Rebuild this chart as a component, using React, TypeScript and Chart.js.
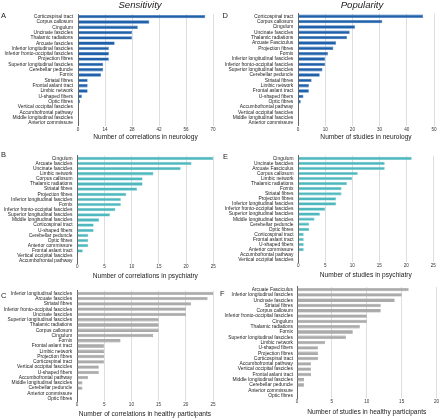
import React, { useEffect, useRef } from "react";
import { Chart, registerables } from "chart.js";

Chart.register(...registerables);

// ---------- DATA ----------
const labelsA = [
  "Corticospinal tract", "Corpus callosum", "Cingulum", "Uncinate fascicles", "Thalamic radiations",
  "Arcuate fascicles", "Inferior longitudinal fascicles", "Inferior fronto-occipital fascicles",
  "Projection fibres", "Superior longitudinal fascicles", "Cerebellar peduncle", "Fornix",
  "Striatal fibres", "Frontal aslant tract", "Limbic network", "U-shaped fibers", "Optic fibres",
  "Vertical occipital fascicles", "Accumbofrontal pathway", "Middle longitudinal fascicles",
  "Anterior commissure",
];
const valuesA = [66, 37, 31, 28, 28, 19, 16, 16, 16, 13, 13, 12, 5, 5, 5, 2, 1, 0, 0, 0, 0];

const labelsB = [
  "Cingulum", "Arcuate fascicles", "Uncinate fascicles", "Limbic network", "Corpus callosum",
  "Thalamic radiations", "Striatal fibres", "Projection fibres", "Inferior longitudinal fascicles",
  "Fornix", "Inferior fronto-occipital fascicles", "Superior longitudinal fascicles",
  "Middle longitudinal fascicles", "Corticospinal tract", "U-shaped fibers", "Cerebellar peduncle",
  "Optic fibres", "Anterior commissure", "Frontal aslant tract", "Vertical occipital fascicles",
  "Accumbofrontal pathway",
];
const valuesB = [25, 21, 19, 14, 12, 12, 11, 9, 8, 8, 7, 6, 4, 3, 3, 2, 2, 2, 1, 0, 0];

const labelsC = [
  "Inferior longitudinal fascicles", "Arcuate fascicles", "Striatal fibres",
  "Inferior fronto-occipital fascicles", "Uncinate fascicles", "Superior longitudinal fascicles",
  "Thalamic radiations", "Corpus callosum", "Cingulum", "Fornix", "Frontal aslant tract",
  "Limbic network", "Projection fibres", "Corticospinal tract", "Vertical occipital fascicles",
  "U-shaped fibers", "Accumbofrontal pathway", "Middle longitudinal fascicles",
  "Cerebellar peduncle", "Anterior commissure", "Optic fibres",
];
const valuesC = [25, 24, 21, 20, 20, 15, 15, 15, 14, 8, 5, 5, 5, 5, 4, 4, 2, 1, 1, 0, 0];

const labelsD = [
  "Corticospinal tract", "Corpus callosum", "Cingulum", "Uncinate fascicles", "Thalamic radiations",
  "Arcuate Fasciculus", "Projection fibres", "Fornix", "Inferior longitudinal fascicles",
  "Inferior fronto-occipital fascicles", "Superior longitudinal fascicles", "Cerebellar peduncle",
  "Striatal fibres", "Limbic network", "Frontal aslant tract", "U-shaped fibers", "Optic fibres",
  "Accumbofrontal pathway", "Vertical occipital fascicles", "Middle longitudinal fascicles",
  "Anterior commissure",
];
const valuesD = [46, 31, 21, 19, 18, 14, 13, 11, 10, 10, 9, 8, 5, 4, 4, 2, 1, 0, 0, 0, 0];

const labelsE = [
  "Cingulum", "Uncinate fascicles", "Arcuate Fasciculus", "Corpus callosum", "Limbic network",
  "Thalamic radiations", "Fornix", "Striatal fibres", "Projection fibres",
  "Inferior longitudinal fascicles", "Inferior fronto-occipital fascicles",
  "Superior longitudinal fascicles", "Middle longitudinal fascicles", "Cerebellar peduncle",
  "Optic fibres", "Corticospinal tract", "Frontal aslant tract", "U-shaped fibers",
  "Anterior commissure", "Accumbofrontal pathway", "Vertical occipital fascicles",
];
const valuesE = [21, 16, 16, 11, 10, 9, 8, 8, 7, 7, 5, 4, 3, 2, 2, 1, 1, 1, 1, 0, 0];

const labelsF = [
  "Arcuate Fasciculus", "Inferior longitudinal fascicles", "Uncinate fascicles", "Striatal fibres",
  "Corpus callosum", "Inferior fronto-occipital fascicles", "Cingulum", "Thalamic radiations",
  "Fornix", "Superior longitudinal fascicles", "Limbic network", "U-shaped fibers",
  "Projection fibres", "Corticospinal tract", "Accumbofrontal pathway",
  "Vertical occipital fascicles", "Frontal aslant tract", "Middle longitudinal fascicles",
  "Cerebellar peduncle", "Anterior commissure", "Optic fibres",
];
const valuesF = [16, 15, 14, 12, 12, 10, 10, 9, 8, 7, 4, 3, 3, 3, 2, 2, 2, 1, 1, 0, 0];

const axisTitles = {
  A: "Number of correlations in neurology",
  B: "Number of correlations in psychiatry",
  C: "Number of correlations in healthy participants",
  D: "Number of studies in neurology",
  E: "Number of studies in psychiatry",
  F: "Number of studies in healthy participants",
};

// ---------- STYLE / LAYOUT ----------
const FONT = "'Liberation Sans', Arial, Helvetica, sans-serif";
const BLUE = "#2161aa";
const TEAL = "#4fb8be";
const GREY = "#ababab";

const TITLE_SIZE = 6.6;
const TITLE_LH = TITLE_SIZE * 1.2;
const TICK_SIZE = 4.6;
const TICK_LH = TICK_SIZE * 1.2;

type Panel = {
  key: string;
  labels: string[];
  values: number[];
  color: string;
  border: string;
  max: number;
  step: number;
  title: string;
  colLeft: number;
  chartLeft: number;
  chartRight: number;
  chartTop: number;
  chartBottom: number;
  tickCenter: number;
  titleCenter: number;
  labelGap: number;
  firstRow: boolean;
};

const panels: Panel[] = [
  { key: "A", labels: labelsA, values: valuesA, color: BLUE, border: "#3a78bd", max: 70, step: 14, title: axisTitles.A,
    colLeft: 0, chartLeft: 78, chartRight: 213, chartTop: 14, chartBottom: 125.5, tickCenter: 129.3, titleCenter: 136.7, labelGap: 5, firstRow: true },
  { key: "D", labels: labelsD, values: valuesD, color: BLUE, border: "#3a78bd", max: 50, step: 10, title: axisTitles.D,
    colLeft: 220, chartLeft: 298, chartRight: 434, chartTop: 13.6, chartBottom: 125.8, tickCenter: 129.5, titleCenter: 136.7, labelGap: 4.7, firstRow: true },
  { key: "B", labels: labelsB, values: valuesB, color: TEAL, border: "#68c4c9", max: 25, step: 5, title: axisTitles.B,
    colLeft: 0, chartLeft: 77.3, chartRight: 213.3, chartTop: 154.7, chartBottom: 263.7, tickCenter: 267, titleCenter: 275.7, labelGap: 4.8, firstRow: false },
  { key: "E", labels: labelsE, values: valuesE, color: TEAL, border: "#68c4c9", max: 25, step: 5, title: axisTitles.E,
    colLeft: 220, chartLeft: 298.3, chartRight: 433.3, chartTop: 154.3, chartBottom: 262.3, tickCenter: 266, titleCenter: 275, labelGap: 4.8, firstRow: false },
  { key: "C", labels: labelsC, values: valuesC, color: GREY, border: "#8f8f8f", max: 25, step: 5, title: axisTitles.C,
    colLeft: 0, chartLeft: 77, chartRight: 213, chartTop: 289.6, chartBottom: 401.3, tickCenter: 404.5, titleCenter: 413.7, labelGap: 4.8, firstRow: false },
  { key: "F", labels: labelsF, values: valuesF, color: GREY, border: "#8f8f8f", max: 20, step: 5, title: axisTitles.F,
    colLeft: 220, chartLeft: 297, chartRight: 437, chartTop: 286.6, chartBottom: 398.3, tickCenter: 402, titleCenter: 412, labelGap: 4, firstRow: false },
];

function BarPanel({ p }: { p: Panel }) {
  const ref = useRef<HTMLCanvasElement>(null);
  const canvasTop = p.firstRow ? 0 : Math.floor(p.chartTop - 6);
  const canvasBottom = Math.ceil(p.titleCenter + TITLE_LH / 2);
  const height = canvasBottom - canvasTop;
  const width = 220;

  useEffect(() => {
    if (!ref.current) return;
    const padTop = p.chartTop - canvasTop;
    const padRight = p.colLeft + width - p.chartRight;
    const xAxisHeight = canvasBottom - p.chartBottom;
    const titlePadBottom = canvasBottom - p.titleCenter - TITLE_LH / 2;
    const tickPad = p.tickCenter - p.chartBottom - TICK_LH / 2;
    const chart = new Chart(ref.current, {
      type: "bar",
      data: {
        labels: p.labels,
        datasets: [
          {
            data: p.values,
            backgroundColor: p.color,
            borderColor: p.border,
            borderWidth: 0.6,
            barPercentage: 0.64,
            categoryPercentage: 1,
          },
        ],
      },
      options: {
        indexAxis: "y",
        animation: false,
        responsive: false,
        maintainAspectRatio: false,
        layout: { padding: { top: padTop, right: padRight, left: 0, bottom: 0 } },
        plugins: { legend: { display: false }, tooltip: { enabled: false }, title: { display: false } },
        scales: {
          x: {
            type: "linear",
            min: 0,
            max: p.max,
            grid: { color: "#dedede", lineWidth: 1, drawTicks: false },
            border: { display: false },
            ticks: {
              stepSize: p.step,
              padding: Math.max(0, tickPad),
              color: "#333",
              font: { family: FONT, size: TICK_SIZE, lineHeight: 1.2 },
              maxRotation: 0,
            },
            title: {
              display: true,
              text: p.title,
              color: "#222",
              font: { family: FONT, size: TITLE_SIZE, lineHeight: 1.2 },
              padding: { top: 0, bottom: titlePadBottom },
            },
            afterFit: (scale: any) => {
              scale.height = xAxisHeight;
            },
          },
          y: {
            type: "category",
            grid: { display: false, drawTicks: false },
            border: { display: true, color: "#666", width: 1 },
            ticks: {
              autoSkip: false,
              padding: p.labelGap,
              color: "#222",
              font: { family: FONT, size: 4.9, lineHeight: 1.2 },
            },
            afterFit: (scale: any) => {
              scale.width = p.chartLeft - p.colLeft;
            },
          },
        },
      },
    } as any);
    return () => chart.destroy();
  }, []);

  return (
    <canvas
      ref={ref}
      width={width}
      height={height}
      style={{ position: "absolute", left: p.colLeft, top: canvasTop, width, height }}
    />
  );
}

function Txt({ x, y, size, children, italic, align }: any) {
  const w = 160;
  const left = align === "left" ? x : x - w / 2;
  return (
    <div
      style={{
        position: "absolute",
        left,
        top: y - size / 2,
        width: align === "left" ? undefined : w,
        textAlign: align === "left" ? "left" : "center",
        fontFamily: FONT,
        fontSize: size,
        lineHeight: `${size}px`,
        fontStyle: italic ? "italic" : "normal",
        color: "#222",
        whiteSpace: "nowrap",
      }}
    >
      {children}
    </div>
  );
}

export default function App() {
  return (
    <div style={{ position: "fixed", left: 0, top: 0, width: 440, height: 418, background: "#fff", overflow: "hidden" }}>
      {panels.map((p) => (
        <BarPanel key={p.key} p={p} />
      ))}
      <Txt x={140} y={5} size={9.6} italic>Sensitivity</Txt>
      <Txt x={362} y={4.8} size={9.6} italic>Popularity</Txt>
      <Txt x={1} y={15.7} size={7.5} align="left">A</Txt>
      <Txt x={222.5} y={15.7} size={7.5} align="left">D</Txt>
      <Txt x={1} y={154.7} size={7.5} align="left">B</Txt>
      <Txt x={223} y={156.7} size={7.5} align="left">E</Txt>
      <Txt x={1} y={296} size={7.5} align="left">C</Txt>
      <Txt x={220} y={293.3} size={7.5} align="left">F</Txt>
    </div>
  );
}
